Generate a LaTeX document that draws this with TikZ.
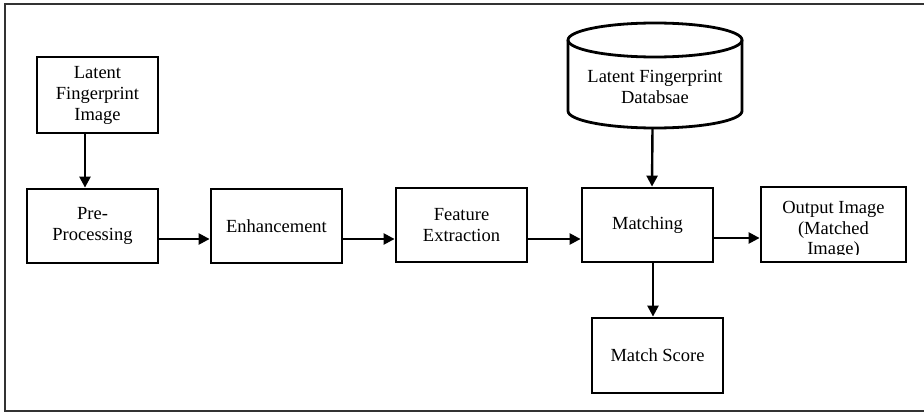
\documentclass[tikz,border=0pt]{standalone}
\usepackage{fontspec}
\setmainfont{Liberation Serif}
\usetikzlibrary{arrows.meta}
\tikzset{
  blk/.style={draw, line width=2.8pt, minimum width=131pt, minimum height=74pt,
    inner sep=0pt, align=center, font=\fontsize{18.5}{21}\selectfont},
  txt/.style={inner sep=0pt, align=center, font=\fontsize{18.5}{20.5}\selectfont},
  arr/.style={line width=2.4pt, -{Triangle[length=11pt,width=11pt]}},
  frame/.style={line width=1.5pt, draw=black!80}
}
\begin{document}
\begin{tikzpicture}[x=1pt,y=-1pt]
\useasboundingbox (0,0) rectangle (924,412);
\draw[frame] (924,4) -- (5,4) -- (5,411) -- (924,411);
% boxes
\node[blk, minimum width=121pt, minimum height=76pt] (lfi) at (97.5,95) {Latent\\Fingerprint\\Image};
\node[blk] (pre) at (92.5,226) {Pre-\\Processing};
\node[blk] (enh) at (276.5,226) {Enhancement};
\node[blk] (fe) at (461.5,225) {Feature\\Extraction};
\node[blk] (mat) at (647.5,225) {Matching};
\node[blk, minimum width=145pt, minimum height=75pt] (out) at (833.5,224.5) {};
\begin{scope}
  \clip (761,187) rectangle (906,254);
  \node[txt] (outtxt) at (833.5,230) {Output Image\\(Matched\\Image)};
\end{scope}
\node[blk, minimum height=75pt] (score) at (657.5,355.5) {Match Score};
% database cylinder
\node[inner sep=0pt, minimum width=174pt, minimum height=105pt] (db) at (655,75.5) {};
\draw[line width=2.8pt] (655,40) ellipse [x radius=87pt, y radius=17pt];
\draw[line width=2.8pt] (568,40) -- (568,111) arc[start angle=180, end angle=360, x radius=87pt, y radius=17pt] -- (742,40);
\node[txt] (dbtxt) at (655,87) {Latent Fingerprint\\Databsae};
% connectors
\draw[arr] ([xshift=-12.5pt]lfi.south) -- ([xshift=-7.5pt]pre.north);
\draw[arr] ([yshift=-13pt]pre.east) -- ([yshift=-13pt]enh.west);
\draw[arr] ([yshift=-13pt]enh.east) -- ([yshift=-14pt]fe.west);
\draw[arr] ([yshift=-14pt]fe.east) -- ([yshift=-14pt]mat.west);
\draw[arr] ([yshift=-13pt]mat.east) -- ([yshift=-13.5pt]out.west);
\draw[arr] ([xshift=-2.5pt]db.south) -- ([xshift=4.5pt]mat.north);
\draw[arr] ([xshift=5.5pt]mat.south) -- ([xshift=-4.5pt]score.north);
\end{tikzpicture}
\end{document}
